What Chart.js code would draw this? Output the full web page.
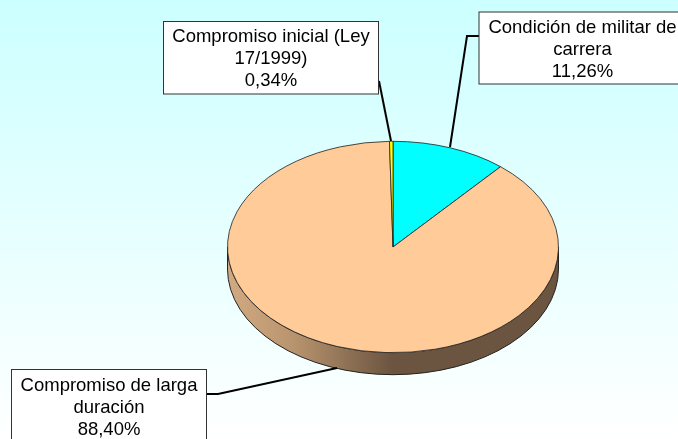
<!DOCTYPE html>
<html>
<head>
<meta charset="utf-8">
<style>
  html, body { margin: 0; padding: 0; background: #fff; }
  canvas { display: block; }
</style>
<script src="https://cdn.jsdelivr.net/npm/chart.js@4/dist/chart.umd.min.js"></script>
</head>
<body>
<canvas id="pie" width="678" height="439"></canvas>
<script>
/* --------------- Data --------------------- */
const categories = ["Condición de militar de carrera", "Compromiso de larga duración", "Compromiso inicial (Ley 17/1999)"];
const shares = [11.26, 88.40, 0.34];
const sliceColors = ["#00ffff", "#ffcc99", "#ffff00"];

// how each label wraps inside its box
const labelLines = [
  ["Condición de militar de", "carrera"],
  ["Compromiso de larga", "duración"],
  ["Compromiso inicial (Ley", "17/1999)"],
];
// box x, y, w, h, where the text is centred and the leader line
const callouts = [
  { box: [479, 12, 205, 72], textX: 582.5, textY: 28, line: [[479, 36], [467, 36], [450, 147]] },
  { box: [11.5, 369.5, 195, 80], textX: 109, textY: 386, line: [[207, 394], [218, 394], [337, 368]] },
  { box: [163.5, 21.5, 215, 72.5], textX: 271, textY: 37, line: [[379, 81], [391, 141]] },
];

const squash = 106 / 166;  // top of the pie is an ellipse
const depth = 22;

/* --------------- Tilted pie: squash the arcs, draw the wall under them --------------------- */
const tiltPlugin = {
  id: "tilt",
  beforeDraw(chart) {
    const ctx = chart.ctx;
    const bg = ctx.createLinearGradient(0, 0, 0, chart.height);
    bg.addColorStop(0, "#ccffff");
    bg.addColorStop(1, "#ffffff");
    ctx.fillStyle = bg;
    ctx.fillRect(0, 0, chart.width, chart.height);
  },
  beforeDatasetsDraw(chart) {
    const ctx = chart.ctx;
    const arc = chart.getDatasetMeta(0).data[0];
    const rx = arc.outerRadius;
    const ry = rx * squash;
    const wall = ctx.createLinearGradient(arc.x - rx, 0, arc.x + rx, 0);
    wall.addColorStop(0, "#d2aa82");
    wall.addColorStop(0.2, "#b8946e");
    wall.addColorStop(0.5, "#6b5440");
    wall.addColorStop(1, "#6b5440");
    ctx.save();
    ctx.beginPath();
    ctx.ellipse(arc.x, arc.y, rx, ry, 0, Math.PI, 0, true);
    ctx.ellipse(arc.x, arc.y + depth, rx, ry, 0, 0, Math.PI, false);
    ctx.closePath();
    ctx.fillStyle = wall;
    ctx.fill();
    ctx.strokeStyle = "#222";
    ctx.lineWidth = 1;
    ctx.stroke();
    ctx.restore();

    ctx.save();
    ctx.translate(arc.x, arc.y);
    ctx.scale(1, squash);
    ctx.translate(-arc.x, -arc.y);
  },
  afterDatasetsDraw(chart) {
    chart.ctx.restore();
  },
  afterDraw(chart) {
    const ctx = chart.ctx;
    callouts.forEach((c, i) => {
      ctx.strokeStyle = "#000";
      ctx.lineWidth = 2;
      ctx.beginPath();
      c.line.forEach((p, k) => (k ? ctx.lineTo(p[0], p[1]) : ctx.moveTo(p[0], p[1])));
      ctx.stroke();

      ctx.fillStyle = "#fff";
      ctx.strokeStyle = "#333";
      ctx.lineWidth = 1;
      ctx.fillRect(c.box[0], c.box[1], c.box[2], c.box[3]);
      ctx.strokeRect(c.box[0], c.box[1], c.box[2], c.box[3]);

      const lines = labelLines[i].concat(shares[i].toFixed(2).replace(".", ",") + "%");
      ctx.fillStyle = "#000";
      ctx.font = '18.5px "Liberation Sans"';
      ctx.textAlign = "center";
      ctx.textBaseline = "middle";
      lines.forEach((t, k) => ctx.fillText(t, c.textX, c.textY + k * 22));
    });
  },
};

/* --------------- Chart --------------------- */
new Chart(document.getElementById("pie"), {
  type: "pie",
  plugins: [tiltPlugin],
  data: {
    labels: categories,
    datasets: [
      {
        data: shares,
        backgroundColor: sliceColors,
        borderColor: "#222",
        borderWidth: 1,
      },
    ],
  },
  options: {
    responsive: false,
    animation: false,
    layout: { padding: { left: 227, right: 119, top: 81, bottom: 26 } },
    plugins: {
      legend: { display: false },
      tooltip: { enabled: false },
    },
  },
});
</script>
</body>
</html>
